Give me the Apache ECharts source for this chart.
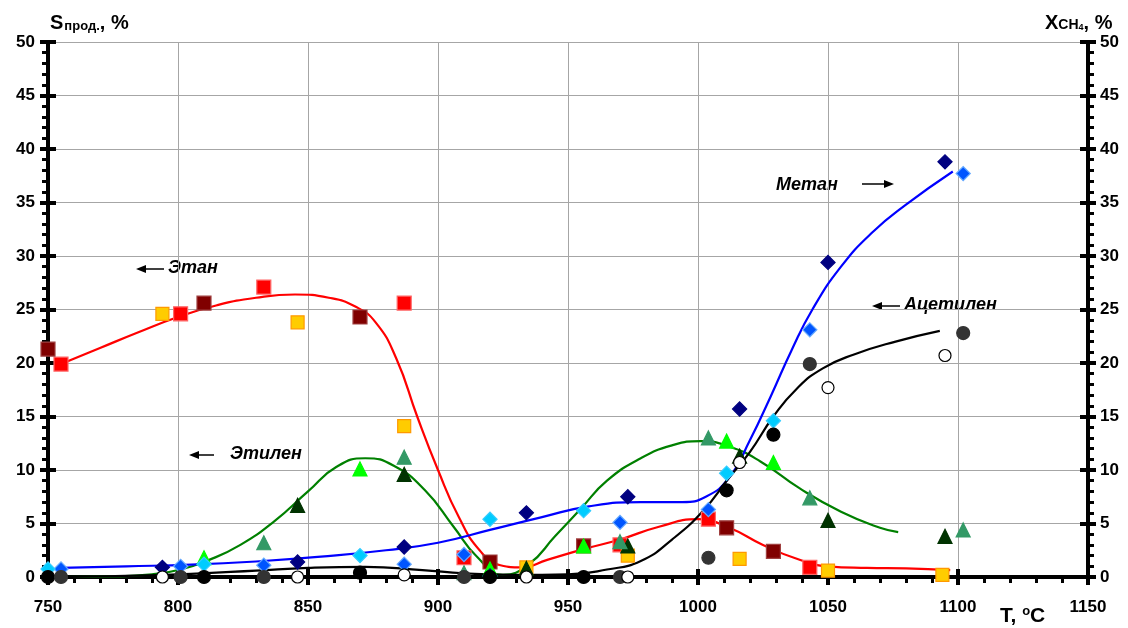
<!DOCTYPE html>
<html>
<head>
<meta charset="utf-8">
<title>S / X vs T</title>
<script src="https://cdn.jsdelivr.net/npm/echarts@6/dist/echarts.min.js"></script>
<style>
  html, body { margin: 0; padding: 0; background: #fff; }
  #main { width: 1128px; height: 628px; }
</style>
</head>
<body>
<div id="main"></div>
<script>
// оси
var xTicks = [750, 800, 850, 900, 950, 1000, 1050, 1100, 1150]
var yTicks = [0, 5, 10, 15, 20, 25, 30, 35, 40, 45, 50]

// Этан (квадраты)
var ethaneRed = [[755, 19.9], [801, 24.6], [833, 27.1], [887, 25.6], [910, 1.8], [970, 3.0], [1004, 5.4], [1043, 0.9]]
var ethaneMaroon = [[750, 21.3], [810, 25.6], [870, 24.3], [920, 1.4], [956, 2.9], [1011, 4.6], [1029, 2.4]]
var ethaneOrange = [[794, 24.6], [846, 23.8], [887, 14.1], [934, 0.9], [973, 2.0], [1016, 1.7], [1050, 0.6], [1094, 0.2]]
var ethaneFit = [[755, 19.9], [770, 21.4], [785, 22.9], [800, 24.3], [815, 25.4], [830, 26.1], [845, 26.4], [858, 26.1], [868, 25.3], [876, 23.8], [884, 20.4], [892, 15.0], [900, 10.0], [908, 5.6], [916, 2.5], [924, 1.1], [932, 0.9], [942, 1.6], [956, 2.6], [970, 3.5], [985, 4.7], [1000, 5.4], [1012, 4.6], [1025, 3.0], [1038, 1.7], [1050, 1.0], [1065, 0.85], [1080, 0.8], [1097, 0.65]]

// Этилен (треугольники)
var ethyleneLime = [[810, 1.8], [870, 10.1], [920, 0.75], [956, 2.9], [1011, 12.7], [1029, 10.7]]
var ethyleneDark = [[846, 6.7], [887, 9.6], [934, 0.8], [973, 2.9], [1016, 11.3], [1050, 5.3], [1095, 3.8]]
var ethyleneSea = [[833, 3.2], [887, 11.2], [910, 0.4], [970, 3.3], [1004, 13.0], [1043, 7.4], [1102, 4.4]]
var ethyleneFit = [[755, 0.0], [775, 0.05], [790, 0.25], [801, 0.7], [812, 1.6], [824, 3.0], [837, 5.2], [850, 8.0], [861, 10.3], [872, 11.1], [883, 10.4], [895, 8.1], [906, 4.7], [915, 1.9], [925, 0.2], [935, 1.2], [945, 3.8], [955, 6.4], [965, 9.0], [978, 11.1], [990, 12.3], [1001, 12.7], [1012, 12.2], [1024, 10.8], [1039, 8.3], [1055, 6.1], [1070, 4.6], [1077, 4.2]]

// Метан (ромбы)
var methaneNavy = [[794, 0.9], [846, 1.4], [887, 2.8], [920, 0.1], [934, 6.0], [973, 7.5], [1016, 15.7], [1050, 29.4], [1095, 38.8]]
var methaneBlue = [[755, 0.75], [801, 1.0], [833, 1.1], [887, 1.2], [910, 2.1], [970, 5.1], [1004, 6.3], [1043, 23.1], [1102, 37.7]]
var methaneSky = [[750, 0.75], [810, 1.2], [870, 2.0], [920, 5.4], [956, 6.2], [1011, 9.7], [1029, 14.6]]
var methaneFit = [[755, 0.85], [780, 1.0], [805, 1.15], [830, 1.45], [855, 1.9], [880, 2.5], [900, 3.2], [920, 4.4], [940, 5.6], [958, 6.6], [978, 7.0], [994, 7.0], [1003, 7.5], [1012, 9.3], [1020, 12.8], [1028, 16.9], [1036, 21.2], [1044, 25.0], [1055, 29.0], [1067, 32.2], [1080, 34.8], [1098, 37.9]]

// Ацетилен (круги)
var acetBlack = [[750, 0], [810, 0], [870, 0.4], [920, 0], [956, 0], [1011, 8.1], [1029, 13.3]]
var acetGray = [[755, 0], [801, 0], [833, 0], [910, 0], [970, 0], [1004, 1.8], [1043, 19.9], [1102, 22.8]]
var acetOpen = [[794, 0], [846, 0], [887, 0.2], [934, 0], [973, 0], [1016, 10.7], [1050, 17.7], [1095, 20.7]]
var acetFit = [[755, 0.0], [780, 0.1], [805, 0.3], [830, 0.6], [850, 0.85], [872, 0.95], [894, 0.65], [910, 0.35], [930, 0.2], [950, 0.25], [965, 0.7], [978, 1.5], [990, 3.5], [1002, 6.2], [1012, 9.3], [1020, 11.7], [1029, 15.0], [1038, 17.6], [1048, 19.5], [1060, 20.8], [1076, 22.0], [1093, 23.0]]

var chart = echarts.init(document.getElementById('main'))

var font = 'Liberation Sans, Arial, sans-serif'
var labelStyle = { color: '#000', fontWeight: 'bold', fontSize: 17, fontFamily: font }

function scatter (data, symbol, size, fill, border, rotate) {
  return {
    type: 'scatter',
    data: data,
    symbol: symbol,
    symbolSize: size,
    symbolRotate: rotate || 0,
    z: 3,
    itemStyle: { color: fill, borderColor: border, borderWidth: 1.2, opacity: 1 },
    emphasis: { disabled: true }
  }
}

function fit (data, color) {
  return {
    type: 'line',
    data: data,
    smooth: 0.5,
    showSymbol: false,
    z: 2,
    lineStyle: { color: color, width: 2.2 },
    emphasis: { disabled: true }
  }
}

function arrow (x1, x2, y) {
  // наконечник на стороне x2
  var dir = x2 > x1 ? 1 : -1
  return {
    type: 'group',
    children: [
      { type: 'line', shape: { x1: x1, y1: y, x2: x2 - dir * 8, y2: y }, style: { stroke: '#000', lineWidth: 1.5 } },
      { type: 'polygon', shape: { points: [[x2, y], [x2 - dir * 10, y - 4], [x2 - dir * 10, y + 4]] }, style: { fill: '#000' } }
    ]
  }
}

function note (x, y, text) {
  return {
    type: 'text',
    left: x,
    top: y,
    style: { text: text, fill: '#000', font: 'italic bold 18px ' + font }
  }
}

var axisLine = { show: true, lineStyle: { color: '#000', width: 4 } }
var plain = function (v) { return String(v) }

var option = {
  animation: false,
  backgroundColor: '#fff',
  grid: { left: 48, right: 40, top: 42, bottom: 51 },
  xAxis: [
    {
      type: 'value',
      min: xTicks[0],
      max: xTicks[xTicks.length - 1],
      interval: 50,
      position: 'bottom',
      axisLine: axisLine,
      axisTick: { show: true, length: 8, lineStyle: { color: '#000', width: 4 } },
      minorTick: { show: true, splitNumber: 5, length: 6, lineStyle: { color: '#000', width: 3 } },
      splitLine: { show: true, lineStyle: { color: '#a6a6a6', width: 1 } },
      axisLabel: Object.assign({ margin: 22, formatter: plain }, labelStyle)
    },
    {
      type: 'value',
      min: xTicks[0],
      max: xTicks[xTicks.length - 1],
      interval: 50,
      position: 'bottom',
      axisLine: { show: false },
      axisTick: { show: true, inside: true, length: 8, lineStyle: { color: '#000', width: 4 } },
      splitLine: { show: false },
      axisLabel: { show: false }
    }
  ],
  yAxis: [
    {
      type: 'value',
      min: yTicks[0],
      max: yTicks[yTicks.length - 1],
      interval: 5,
      position: 'left',
      axisLine: axisLine,
      axisTick: { show: true, length: 8, lineStyle: { color: '#000', width: 4 } },
      minorTick: { show: true, splitNumber: 5, length: 6, lineStyle: { color: '#000', width: 3 } },
      splitLine: { show: true, lineStyle: { color: '#a6a6a6', width: 1 } },
      axisLabel: Object.assign({ margin: 13 }, labelStyle)
    },
    {
      type: 'value',
      min: yTicks[0],
      max: yTicks[yTicks.length - 1],
      interval: 5,
      position: 'right',
      axisLine: axisLine,
      axisTick: { show: true, length: 8, lineStyle: { color: '#000', width: 4 } },
      minorTick: { show: true, splitNumber: 5, length: 6, lineStyle: { color: '#000', width: 3 } },
      splitLine: { show: false },
      axisLabel: Object.assign({ margin: 12 }, labelStyle)
    },
    {
      type: 'value',
      min: yTicks[0],
      max: yTicks[yTicks.length - 1],
      interval: 5,
      position: 'left',
      axisLine: { show: false },
      axisTick: { show: true, inside: true, length: 8, lineStyle: { color: '#000', width: 4 } },
      splitLine: { show: false },
      axisLabel: { show: false }
    },
    {
      type: 'value',
      min: yTicks[0],
      max: yTicks[yTicks.length - 1],
      interval: 5,
      position: 'right',
      axisLine: { show: false },
      axisTick: { show: true, inside: true, length: 8, lineStyle: { color: '#000', width: 4 } },
      splitLine: { show: false },
      axisLabel: { show: false }
    }
  ],
  series: [
    fit(ethaneFit, '#ff0000'),
    fit(ethyleneFit, '#008000'),
    fit(methaneFit, '#0000ff'),
    fit(acetFit, '#000000'),
    scatter(ethaneRed, 'rect', 14, '#ff0000', '#ff6666'),
    scatter(ethaneMaroon, 'rect', 14, '#800000', '#a04040'),
    scatter(ethaneOrange, 'rect', 13, '#ffcc00', '#ff9900'),
    scatter(ethyleneLime, 'triangle', 14, '#00ff00', '#00ff00'),
    scatter(ethyleneDark, 'triangle', 14, '#003300', '#003300'),
    scatter(ethyleneSea, 'triangle', 14, '#339966', '#339966'),
    scatter(methaneNavy, 'rect', 10, '#000080', '#000080', 45),
    scatter(methaneBlue, 'rect', 10, '#0055ff', '#66aaff', 45),
    scatter(methaneSky, 'rect', 10, '#00ccff', '#33ccff', 45),
    scatter(acetBlack, 'circle', 13, '#000000', '#000000'),
    scatter(acetGray, 'circle', 13, '#333333', '#333333'),
    scatter(acetOpen, 'circle', 12, '#ffffff', '#000000')
  ],
  graphic: [
    {
      type: 'text',
      left: 50,
      top: 13,
      style: {
        text: '{b|S}{s|прод.}{b|, %}',
        rich: {
          b: { font: 'bold 20px ' + font, fill: '#000', verticalAlign: 'bottom' },
          s: { font: 'bold 13px ' + font, fill: '#000', padding: [8, 0, 0, 1] }
        }
      }
    },
    {
      type: 'text',
      left: 1045,
      top: 13,
      style: {
        text: '{b|X}{s|CH}{t|4}{b|, %}',
        rich: {
          b: { font: 'bold 20px ' + font, fill: '#000' },
          s: { font: 'bold 14px ' + font, fill: '#000', padding: [5, 0, 0, 0] },
          t: { font: 'bold 9px ' + font, fill: '#000', padding: [10, 0, 0, 0] }
        }
      }
    },
    {
      type: 'text',
      left: 1000,
      top: 605,
      style: {
        text: '{b|T, }{o|o}{b|C}',
        rich: {
          b: { font: 'bold 21px ' + font, fill: '#000' },
          o: { font: 'bold 13px ' + font, fill: '#000', padding: [0, 0, 9, 0] }
        }
      }
    },
    arrow(164, 136, 269),
    note(168, 259, 'Этан'),
    arrow(214, 189, 455),
    note(230, 445, 'Этилен'),
    note(776, 176, 'Метан'),
    arrow(862, 894, 184),
    arrow(900, 872, 306),
    note(904, 296, 'Ацетилен')
  ]
}

chart.setOption(option)
</script>
</body>
</html>
